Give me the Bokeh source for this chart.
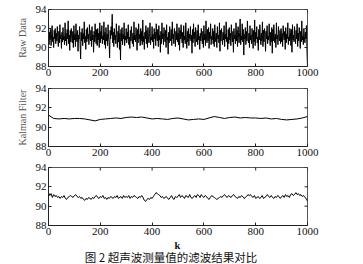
import math
from bokeh.plotting import figure
from bokeh.layouts import column
from bokeh.models import FixedTicker, Range1d, Label
from bokeh.embed import file_html
from bokeh.resources import INLINE

# ---------------- data ----------------
k_raw = list(range(0, 1000, 2)) + [1000]
raw_data = [
    92.7, 90.3, 91.6, 90.8, 91.9, 90.2, 91.4, 92.3, 90.6, 91.1, 90.0, 91.8, 90.9, 92.0, 90.4, 91.5, 90.7, 92.2, 91.0, 90.1, 91.7, 90.5, 92.4, 90.9, 91.3,
    89.9, 91.6, 90.6, 92.1, 90.8, 91.2, 90.3, 92.6, 90.7, 91.5, 90.2, 91.9, 90.9, 92.8, 90.4, 91.3, 89.7, 91.8, 90.6, 92.0, 91.1, 90.5, 91.7, 90.0, 92.3,
    90.8, 91.4, 90.1, 92.5, 91.0, 90.6, 91.8, 89.6, 91.3, 90.9, 92.2, 90.4, 88.8, 91.6, 90.7, 92.0, 90.2, 91.5, 90.9, 92.7, 90.5, 91.2, 89.8, 91.9, 90.6,
    92.1, 90.9, 91.4, 90.3, 92.4, 91.0, 90.7, 91.8, 90.1, 92.2, 90.8, 91.3, 89.5, 91.7, 90.6, 92.5, 91.1, 90.4, 91.9, 90.2, 92.0, 90.8, 91.5, 90.0, 92.6,
    90.5, 91.7, 90.9, 92.3, 90.4, 91.2, 90.8, 92.7, 90.3, 91.6, 89.9, 92.1, 90.7, 91.4, 90.2, 92.4, 91.0, 90.6, 88.9, 91.8, 90.9, 92.2, 91.3, 93.5, 90.5,
    91.6, 90.1, 92.0, 90.8, 91.3, 90.4, 92.5, 91.1, 90.0, 91.7, 90.6, 92.3, 89.8, 91.5, 88.7, 91.9, 90.7, 92.1, 90.3, 91.4, 90.9, 92.6, 90.2, 91.2, 90.8,
    92.0, 90.5, 91.6, 90.9, 92.4, 90.3, 91.1, 89.9, 91.8, 90.7, 92.2, 91.0, 90.4, 91.5, 90.1, 92.7, 90.8, 91.3, 90.6, 92.1, 91.2, 89.7, 91.9, 90.5, 92.5,
    90.9, 91.4, 90.2, 92.0, 90.7, 91.7, 90.3, 92.9, 90.6, 91.2, 89.8, 91.6, 90.9, 92.3, 90.4, 91.8, 90.0, 92.1, 91.0, 90.5, 91.5, 92.6, 90.3, 91.1, 90.8,
    92.2, 90.6, 91.4, 89.9, 92.0, 90.9, 91.6, 90.2, 92.5, 91.0, 90.7, 91.9, 90.1, 92.3, 90.8, 91.3, 89.5, 91.7, 90.4, 92.6, 90.9, 91.5, 90.3, 92.1, 91.2,
    90.6, 91.8, 90.0, 92.4, 90.8, 91.1, 89.3, 91.6, 90.5, 92.2, 91.0, 90.7, 91.9, 90.2, 92.7, 90.9, 91.4, 90.4, 92.0, 91.3, 90.1, 91.7, 90.8, 92.5, 90.6,
    91.5, 90.3, 92.1, 89.7, 91.8, 90.9, 92.4, 91.1, 90.5, 91.6, 90.0, 92.3, 90.8, 91.2, 90.4, 92.6, 91.0, 89.9, 91.7, 90.6, 92.0, 90.2, 91.4, 90.9, 92.2,
    90.7, 91.3, 89.4, 91.9, 90.5, 92.5, 90.9, 91.6, 90.1, 92.1, 91.0, 90.6, 91.8, 90.3, 92.4, 90.8, 91.2, 89.8, 91.5, 90.7, 92.0, 91.1, 90.4, 91.7, 90.0,
    92.3, 90.8, 91.4, 90.2, 92.8, 91.0, 90.5, 91.9, 90.7, 92.1, 89.9, 91.6, 90.9, 92.5, 90.3, 91.2, 90.8, 92.0, 90.4, 91.7, 90.1, 92.4, 91.1, 90.6, 91.5,
    90.0, 92.2, 90.9, 91.3, 90.5, 92.6, 89.6, 91.8, 90.7, 92.0, 91.2, 90.3, 91.6, 90.8, 92.3, 90.1, 91.4, 90.9, 92.7, 90.6, 91.1, 89.8, 91.9, 90.4, 92.1,
    90.8, 91.5, 90.2, 92.4, 91.0, 90.6, 91.7, 89.5, 92.0, 90.9, 91.3, 90.4, 92.6, 90.7, 91.8, 90.1, 92.2, 91.1, 90.5, 91.6, 93.0, 90.3, 91.2, 90.8, 92.5,
    90.6, 91.9, 89.2, 91.4, 90.9, 92.1, 90.3, 91.7, 90.7, 92.8, 91.0, 90.5, 91.5, 90.0, 92.3, 90.8, 91.3, 90.4, 92.0, 91.2, 89.9, 91.8, 90.6, 92.9, 90.2,
    91.6, 90.9, 92.2, 90.5, 91.1, 89.7, 91.9, 90.8, 92.4, 91.0, 90.3, 91.5, 90.7, 92.7, 90.1, 91.8, 90.6, 92.0, 91.3, 89.6, 91.7, 90.9, 92.3, 90.4, 91.2,
    90.8, 92.5, 91.0, 90.2, 91.6, 90.6, 92.1, 89.4, 91.9, 90.7, 92.4, 91.1, 90.5, 91.4, 90.0, 92.6, 90.9, 91.3, 90.3, 92.2, 91.0, 90.7, 91.8, 90.4, 92.0,
    90.6, 91.5, 90.1, 92.3, 91.2, 90.8, 91.7, 89.8, 92.1, 90.5, 91.4, 90.9, 92.6, 90.3, 91.1, 90.7, 92.0, 91.6, 90.2, 91.9, 89.5, 92.4, 90.8, 91.3, 90.6,
    92.2, 91.0, 90.4, 91.8, 90.9, 92.5, 90.1, 91.5, 90.7, 92.1, 91.3, 89.9, 91.7, 90.6, 92.8, 90.8, 91.2, 90.3, 92.0, 91.0, 90.5, 91.6, 90.9, 92.3, 89.6,
    88.0,
]

k_kalman = list(range(0, 1001, 20))
kalman = [
    91.25, 90.9, 90.85, 90.9, 90.85, 90.9, 90.9, 90.85, 90.75, 90.65,
    90.8, 90.85, 90.9, 90.95, 90.9, 91.0, 91.05, 91.0, 91.05, 90.95,
    90.85, 90.9, 90.85, 90.8, 90.9, 90.95, 90.85, 90.75, 90.8, 90.85,
    90.8, 90.95, 91.1, 91.0, 90.9, 91.0, 91.05, 90.95, 91.0, 90.95,
    90.95, 90.9, 90.95, 90.85, 90.9, 90.8, 90.75, 90.8, 90.85, 90.95,
    91.1,
]

k_third = list(range(0, 1001, 5))
third = [
    91.4, 91.1, 91.3, 90.9, 91.2, 91.0, 91.1, 90.9, 91.0, 90.8, 91.0, 90.9, 91.1, 90.8, 90.7, 90.9, 91.0, 91.1, 91.0, 90.9,
    91.1, 91.2, 91.0, 90.9, 91.0, 90.8, 90.9, 90.7, 90.6, 90.8, 90.7, 90.9, 90.8, 90.7, 90.9, 90.8, 91.0, 91.1, 90.9, 90.8,
    91.0, 90.9, 91.1, 90.8, 90.9, 90.7, 90.9, 90.8, 91.0, 90.9, 90.8, 91.0, 90.9, 91.1, 90.8, 90.9, 91.0, 90.8, 91.1, 90.9,
    91.0, 90.9, 91.1, 90.8, 91.0, 90.9, 91.1, 91.0, 90.9, 90.8, 91.0, 90.9, 91.1, 90.9, 90.6, 90.5, 90.7, 90.8, 90.7, 90.9,
    90.8, 91.0, 91.2, 91.4, 91.3, 91.2, 91.1, 90.9, 91.0, 90.8, 90.9, 91.0, 90.8, 90.7, 90.9, 91.1, 90.8, 90.7, 91.0, 90.9,
    91.0, 91.2, 90.9, 91.1, 91.0, 90.8, 91.1, 91.0, 90.9, 91.2, 90.9, 90.8, 91.0, 91.1, 90.9, 91.2, 91.1, 90.9, 91.2, 91.0,
    90.9, 91.1, 91.0, 90.8, 90.7, 90.9, 91.1, 91.0, 90.9, 90.8, 90.7, 90.8, 90.9, 91.0, 90.9, 91.1, 91.2, 91.0, 90.9, 91.1,
    91.0, 90.9, 91.1, 91.2, 91.0, 90.9, 90.8, 91.0, 90.9, 91.1, 91.0, 90.8, 90.9, 91.0, 91.2, 91.1, 91.2, 91.0, 90.9, 91.1,
    90.8, 90.9, 91.0, 90.8, 90.9, 91.1, 90.8, 90.9, 91.0, 91.2, 91.0, 90.9, 91.1, 90.9, 90.8, 91.0, 90.9, 91.1, 91.0, 90.8,
    91.0, 91.1, 90.9, 91.2, 91.0, 91.1, 90.9, 91.2, 91.3, 91.1, 91.2, 91.4, 91.2, 91.3, 91.1, 91.2, 91.0, 91.1, 90.9, 90.8,
    90.5,
]

x_ticks = [0, 200, 400, 600, 800, 1000]
y_ticks = [88, 90, 92, 94]
y_labels = ["Raw Data", "Kalman Filter", ""]
x_label = "k"
caption = "图 2 超声波测量值的滤波结果对比"

SERIF = "Liberation Serif"
AX = "#222222"


def style_axis(ax):
    ax.major_tick_in = 3
    ax.major_tick_out = 0
    ax.minor_tick_line_color = None
    ax.axis_line_color = AX
    ax.major_tick_line_color = AX
    ax.major_label_text_font = SERIF
    ax.major_label_text_font_size = "11px"
    ax.major_label_text_color = "#111111"
    ax.major_label_standoff = 2
    ax.axis_label_text_font = SERIF
    ax.axis_label_text_font_style = "normal"
    ax.axis_label_text_font_size = "10px"
    ax.axis_label_text_color = "#555555"
    ax.axis_label_standoff = 5


def make_panel(xs, ys, ylabel, height, top, bottom):
    p = figure(width=363, height=height, output_backend="svg", toolbar_location=None,
               x_range=Range1d(0, 1000), y_range=Range1d(88, 94),
               min_border_left=48, min_border_right=56,
               min_border_top=top, min_border_bottom=bottom)
    p.background_fill_color = "white"
    p.border_fill_color = "white"
    p.outline_line_color = "#555555"
    p.xgrid.visible = False
    p.ygrid.visible = False
    p.line(xs, ys, line_color="black", line_width=1)
    p.xaxis.ticker = FixedTicker(ticks=x_ticks)
    p.yaxis.ticker = FixedTicker(ticks=y_ticks)
    style_axis(p.xaxis[0])
    style_axis(p.yaxis[0])
    if ylabel:
        p.yaxis.axis_label = ylabel
    # inward ticks on top and right edges (half of each dash is clipped by the frame)
    p.scatter(x=x_ticks, y=[y_ticks[-1]] * len(x_ticks), marker="dash", size=6,
              angle=math.pi / 2, line_color=AX, line_width=1)
    p.scatter(x=[x_ticks[-1]] * len(y_ticks), y=y_ticks, marker="dash", size=6,
              angle=0, line_color=AX, line_width=1)
    return p


p1 = make_panel(k_raw, raw_data, y_labels[0], 80, 9, 14)
p2 = make_panel(k_kalman, kalman, y_labels[1], 80, 8, 14)
p3 = make_panel(k_third, third, y_labels[2], 79, 7, 14)

# caption strip below the last panel (its frame is aligned with the panels above)
p4 = figure(width=363, height=25, output_backend="svg", toolbar_location=None,
            x_axis_type=None, y_axis_type=None, min_border=0,
            x_range=Range1d(0, 1), y_range=Range1d(0, 1))
p4.outline_line_color = None
p4.xgrid.visible = False
p4.ygrid.visible = False
kt = Label(x=129, y=19, x_units="screen", y_units="screen", text=x_label,
           text_font=SERIF, text_font_size="10.5px", text_font_style="bold",
           text_color="#111111", text_align="center", text_baseline="alphabetic")
p4.add_layout(kt)
cap = Label(x=122.5, y=7.5, x_units="screen", y_units="screen", text=caption,
            text_font="Noto Sans CJK SC", text_font_size="11.5px",
            text_color="#111111", text_align="center", text_baseline="middle")
p4.add_layout(cap)

layout = column(p1, p2, p3, p4, spacing=0)

open("out.html", "w").write(file_html(layout, INLINE))
